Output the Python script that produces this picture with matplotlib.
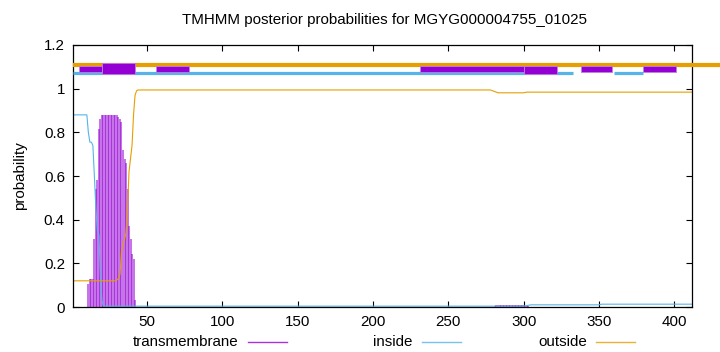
import matplotlib
matplotlib.use("Agg")
import matplotlib.pyplot as plt
from matplotlib.lines import Line2D

plt.rcParams['font.family'] = ['Liberation Sans', 'DejaVu Sans']

title = "TMHMM posterior probabilities for MGYG000004755_01025"
seq_len = 412

# transmembrane posterior (impulses), residue -> value
tm_pos = list(range(11, 44)) + list(range(281, 304))
tm_val = [0.105, 0.13, 0.13, 0.13, 0.31, 0.54, 0.58, 0.815, 0.86,
          0.878, 0.878, 0.878, 0.878, 0.878, 0.878, 0.878, 0.878, 0.878, 0.878, 0.878,
          0.872, 0.861, 0.846, 0.72, 0.68, 0.66, 0.54, 0.37, 0.31, 0.245, 0.22, 0.03, 0.0] + \
         [0.006, 0.008, 0.009, 0.01, 0.01, 0.011, 0.011, 0.011, 0.011, 0.011, 0.011,
          0.011, 0.011, 0.011, 0.011, 0.01, 0.01, 0.009, 0.008, 0.007, 0.006, 0.005, 0.004]

# inside posterior (line breakpoints)
in_x = [1, 10, 11, 12, 13, 14, 15, 16, 17, 18, 19, 20, 21, 300, 305, 350, 352, 412]
in_y = [0.88, 0.88, 0.80, 0.755, 0.755, 0.74, 0.60, 0.45, 0.35, 0.33, 0.15, 0.03, 0.004,
        0.004, 0.010, 0.010, 0.013, 0.013]

# outside posterior (line breakpoints)
out_x = [1, 29, 30, 31, 32, 33, 34, 35, 36, 37, 38, 39, 40, 41, 42, 43, 44, 278, 283, 300, 302, 412]
out_y = [0.12, 0.12, 0.125, 0.13, 0.15, 0.25, 0.29, 0.31, 0.34, 0.45, 0.62, 0.68, 0.74,
         0.88, 0.97, 0.99, 0.994, 0.994, 0.981, 0.981, 0.984, 0.984]

# predicted topology segments (start, end)
outside_seg = [(1, 435)]
inside_seg = [(1, 333), (360, 379)]
tm_seg_small = [(5, 20), (56, 78), (231, 300), (338, 359), (379, 401)]
tm_seg_big = [(20, 42)]
tm_seg_mid = [(300, 322)]

c_tm = '#9400D3'
c_in = '#56B4E9'
c_out = '#E69F00'

fig = plt.figure(figsize=(7.2, 3.52), dpi=100)
ax = fig.add_axes([0.1018, 0.1278, 0.8597, 0.7444])

ax.vlines(tm_pos, 0, tm_val, color=c_tm, lw=1.1, alpha=0.7)
ax.plot(in_x, in_y, color=c_in, lw=0.8)
ax.plot(out_x, out_y, color=c_out, lw=0.8)

for s, e in outside_seg:
    ax.plot([s, e], [1.11, 1.11], color=c_out, lw=3.0, solid_capstyle='butt', clip_on=False, zorder=3)
for s, e in inside_seg:
    ax.plot([s, e], [1.072, 1.072], color=c_in, lw=2.3, solid_capstyle='butt', zorder=3)
ax.broken_barh([(s, e - s) for s, e in tm_seg_small], (1.078, 0.026), facecolor=c_tm,
               edgecolor='#c080e0', lw=0.6, zorder=4)
ax.broken_barh([(s, e - s) for s, e in tm_seg_mid], (1.068, 0.036), facecolor=c_tm,
               edgecolor='#c080e0', lw=0.6, zorder=4)
ax.broken_barh([(s, e - s) for s, e in tm_seg_big], (1.066, 0.05), facecolor=c_tm,
               edgecolor='#c080e0', lw=0.6, zorder=4)

ax.set_xlim(1, seq_len)
ax.set_ylim(0, 1.2)
ax.set_xticks([50, 100, 150, 200, 250, 300, 350, 400])
ax.set_yticks([0, 0.2, 0.4, 0.6, 0.8, 1.0, 1.2])
ax.set_yticklabels(['0', '0.2', '0.4', '0.6', '0.8', '1', '1.2'])
ax.tick_params(direction='in', top=True, right=True, length=4, width=0.8, labelsize=10.9)
ax.tick_params(axis='x', pad=6)
ax.tick_params(axis='y', pad=6)
for sp in ax.spines.values():
    sp.set_linewidth(0.9)
ax.set_ylabel('probability', fontsize=10.9, labelpad=12)
fig.text(384 / 720, 1 - 20 / 352, title, ha='center', va='center', fontsize=10.9)

# legend
leg = [("transmembrane", c_tm, 238 / 720, 248 / 720, 287 / 720),
       ("inside", c_in, 412 / 720, 422 / 720, 461 / 720),
       ("outside", c_out, 587 / 720, 596 / 720, 635 / 720)]
ly = 1 - 342 / 352
for lab, col, tx, x0, x1 in leg:
    fig.text(tx, ly, lab, ha='right', va='center', fontsize=10.9)
    fig.add_artist(Line2D([x0, x1], [ly, ly], color=col, lw=1.0, alpha=0.8, transform=fig.transFigure))

fig.savefig('out.png', dpi=100)
